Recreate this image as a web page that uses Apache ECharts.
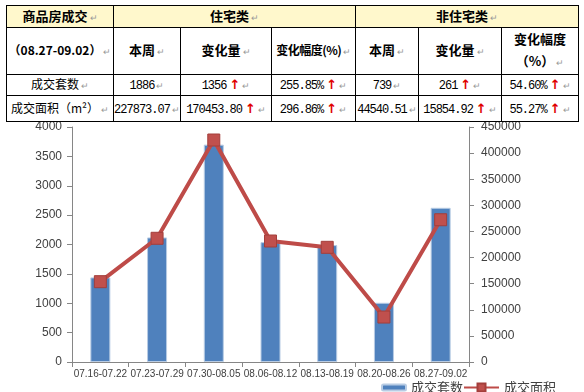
<!DOCTYPE html>
<html>
<head>
<meta charset="utf-8">
<script src="https://cdn.jsdelivr.net/npm/echarts@6/dist/echarts.min.js"></script>
<style>
  html, body { margin:0; padding:0; background:#fff; width:584px; height:392px; overflow:hidden; }
  #chart { position:absolute; left:0; top:0; width:584px; height:392px; }
  #tbl { position:absolute; left:6px; top:5px; width:572px; border-collapse:collapse; table-layout:fixed;
         font-family:"Noto Sans CJK SC","Noto Sans",sans-serif; color:#000; z-index:2; background:#fff; }
  #tbl td { border:1px solid #000; padding:0; text-align:center; vertical-align:middle; font-size:12px; line-height:14px; white-space:nowrap; overflow:hidden; }
  #tbl tr.h1 td { background:#FFF8CC; font-weight:bold; font-size:13px; }
  #tbl tr.h2 td { font-weight:bold; font-size:13px; }
  .num { font-family:"Liberation Mono","DejaVu Sans Mono",monospace; font-size:12px; letter-spacing:-1px; }
  .up { color:#E00000; font-weight:bold; font-size:13px; font-family:"DejaVu Sans",sans-serif; margin-left:3px; }
  .pm { color:#999; font-size:9px; font-weight:normal; margin-left:2px; }
</style>
</head>
<body>
<div id="chart"></div>
<table id="tbl"></table>
<script>
// ---- table data ----
var tableTitle = '商品房成交';
var periodLabel = '（08.27-09.02）';
var groupNames = ['住宅类', '非住宅类'];
var colHeads = ['本周', '变化量', '变化幅度(%)'];
var rowNames = ['成交套数', '成交面积（m²）'];
var resThisWeek = ['1886', '227873.07'];
var resChange = ['1356', '170453.80'];
var resPct = ['255.85%', '296.86%'];
var nonResThisWeek = ['739', '44540.51'];
var nonResChange = ['261', '15854.92'];
var nonResPct = ['54.60%', '55.27%'];

// ---- chart data ----
var categories = ['07.16-07.22', '07.23-07.29', '07.30-08.05', '08.06-08.12', '08.13-08.19', '08.20-08.26', '08.27-09.02'];
var setCounts = [1440, 2120, 3700, 2040, 1990, 1008, 2625];
var areas = [153800, 236900, 425100, 231700, 219600, 86105, 272414];
var seriesNames = ['成交套数', '成交面积'];
var leftTicks = { min: 0, max: 4000, interval: 500 };
var rightTicks = { min: 0, max: 450000, interval: 50000 };

// build table
(function () {
  var PM = '<span class="pm">↵</span>';
  var UP = '<span class="up">↑</span>';
  var widths = [107, 67, 91, 84, 63, 83, 77];
  var heights = [22, 42, 21, 26];
  var html = '<colgroup>' + widths.map(function (w) { return '<col style="width:' + w + 'px">'; }).join('') + '</colgroup>';
  html += '<tr class="h1" style="height:' + heights[0] + 'px"><td>' + tableTitle + PM + '</td>' +
          '<td colspan="3">' + groupNames[0] + PM + '</td><td colspan="3">' + groupNames[1] + PM + '</td></tr>';
  html += '<tr class="h2" style="height:' + heights[1] + 'px"><td style="font-size:12px">' + periodLabel + PM + '</td>' +
          '<td>' + colHeads[0] + PM + '</td><td>' + colHeads[1] + PM + '</td><td style="font-size:12px;letter-spacing:-0.5px">' + colHeads[2] + PM + '</td>' +
          '<td>' + colHeads[0] + PM + '</td><td>' + colHeads[1] + PM + '</td>' +
          '<td style="line-height:22px">变化幅度<br>（%）' + PM + '</td></tr>';
  for (var i = 0; i < 2; i++) {
    html += '<tr style="height:' + heights[2 + i] + 'px"><td>' + rowNames[i] + PM + '</td>' +
      '<td><span class="num">' + resThisWeek[i] + '</span>' + PM + '</td>' +
      '<td><span class="num">' + resChange[i] + '</span>' + UP + PM + '</td>' +
      '<td><span class="num">' + resPct[i] + '</span>' + UP + PM + '</td>' +
      '<td><span class="num">' + nonResThisWeek[i] + '</span>' + PM + '</td>' +
      '<td><span class="num">' + nonResChange[i] + '</span>' + UP + PM + '</td>' +
      '<td><span class="num">' + nonResPct[i] + '</span>' + UP + PM + '</td></tr>';
  }
  document.getElementById('tbl').innerHTML = html;
})();

var chart = echarts.init(document.getElementById('chart'), null, { renderer: 'canvas' });
var axisLineStyle = { show: true, lineStyle: { color: '#868686', width: 1 } };
var labelFont = { fontFamily: 'Liberation Sans, Arial, sans-serif', color: '#404040' };
var plain = function (v) { return String(v); };
chart.setOption({
  animation: false,
  backgroundColor: 'transparent',
  grid: { left: 72, right: 115, top: 127, bottom: 30, containLabel: false },
  legend: [
    { data: [seriesNames[0]], left: 376, top: 376, itemWidth: 24, itemHeight: 6, itemGap: 4,
      textStyle: { fontSize: 13, color: '#404040', fontFamily: 'Noto Sans CJK SC' } },
    { data: [seriesNames[1]], left: 458, top: 376, itemWidth: 35, itemHeight: 10, itemGap: 4,
      textStyle: { fontSize: 13, color: '#404040', fontFamily: 'Noto Sans CJK SC' } }
  ],
  xAxis: {
    type: 'category', data: categories, boundaryGap: true,
    axisLine: axisLineStyle,
    axisTick: { show: true, length: 5, alignWithLabel: false, lineStyle: { color: '#868686' } },
    axisLabel: Object.assign({ interval: 0, fontSize: 10, margin: 7 }, labelFont),
    splitLine: { show: false }
  },
  yAxis: [
    { type: 'value', min: leftTicks.min, max: leftTicks.max, interval: leftTicks.interval, position: 'left',
      axisLine: axisLineStyle, axisTick: { show: true, length: 5, lineStyle: { color: '#868686' } },
      axisLabel: Object.assign({ fontSize: 12, margin: 10, formatter: plain }, labelFont), splitLine: { show: false } },
    { type: 'value', min: rightTicks.min, max: rightTicks.max, interval: rightTicks.interval, position: 'right',
      axisLine: axisLineStyle, axisTick: { show: true, length: 5, lineStyle: { color: '#868686' } },
      axisLabel: Object.assign({ fontSize: 12, margin: 12, formatter: plain }, labelFont), splitLine: { show: false } }
  ],
  series: [
    { name: seriesNames[0], type: 'bar', data: setCounts, barWidth: 20, yAxisIndex: 0,
      itemStyle: { color: '#4F81BD', borderColor: '#B8CCE4', borderWidth: 1 } },
    { name: seriesNames[1], type: 'line', data: areas, yAxisIndex: 1, z: 5,
      symbol: 'rect', symbolSize: 12,
      lineStyle: { color: '#BE4B48', width: 4 },
      itemStyle: { color: '#C0504D', borderColor: '#A33E3B', borderWidth: 1 } }
  ]
});
</script>
</body>
</html>
